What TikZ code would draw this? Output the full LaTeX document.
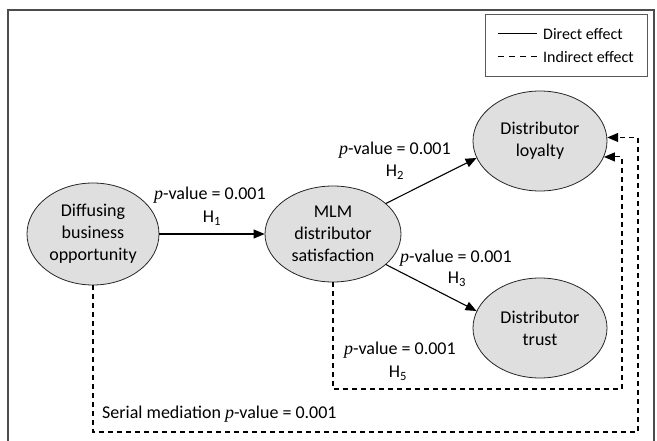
\documentclass[tikz,border=0pt]{standalone}
\usepackage{fontspec}
\setmainfont{Carlito}
\newfontfamily\pfont{Liberation Serif}
\usetikzlibrary{shapes.geometric,arrows.meta}
\newcommand{\pv}{{\pfont\itshape p}}
\begin{document}
\begin{tikzpicture}[x=1pt,y=-1pt,
  construct/.style={ellipse,draw=black!85,line width=0.8pt,fill=gray!25,inner sep=0pt,align=center,font=\fontsize{18}{22}\selectfont},
  lbl/.style={font=\fontsize{18}{22}\selectfont,inner sep=0pt},
  leg/.style={font=\fontsize{16}{19}\selectfont,inner sep=0pt,anchor=west},
  direct/.style={line width=1.1pt,-{Triangle[length=11pt,width=9pt]}},
  indirect/.style={direct,dash pattern=on 5pt off 4pt},
  frameline/.style={draw=black!70,line width=1.3pt},
  legbox/.style={draw=black!65,line width=1pt}]
\useasboundingbox (0,0) rectangle (657,441);
% outer frame
\draw[frameline] (8,441) -- (8,10) -- (654,10) -- (654,441);
% legend
\node[legbox,minimum width=162pt,minimum height=62pt,inner sep=0pt] (legend) at (566,46) {};
\coordinate (ls1) at (498,34);
\coordinate (le1) at (537,34);
\coordinate (ls2) at (498,57);
\coordinate (le2) at (537,57);
\draw[line width=1pt] (ls1) -- (le1);
\draw[line width=1pt,dash pattern=on 6pt off 5pt] (ls2) -- (le2);
\node[leg] (ld) at (543,34) {Direct effect};
\node[leg] (li) at (543,57) {Indirect effect};
% constructs
\node[construct,minimum width=132pt,minimum height=102pt] (diff) at (93,234) {Diffusing\\business\\opportunity};
\node[construct,minimum width=136pt,minimum height=96pt] (mlm) at (333,234) {MLM\\distributor\\satisfaction};
\node[construct,minimum width=134pt,minimum height=100pt] (loy) at (540,141) {Distributor\\loyalty};
\node[construct,minimum width=134pt,minimum height=100pt] (tru) at (540,328) {Distributor\\trust};
% direct effects
\draw[direct] (diff.east) -- (mlm.west);
\draw[direct] (mlm.30) -- (loy.195);
\draw[direct] (mlm.330) -- (tru.165);
% indirect effects
\coordinate (c1) at (622,389);
\coordinate (c2) at (638,432);
\draw[indirect] (mlm.south) |- (c1) |- (loy.-14);
\draw[indirect] (diff.south) |- (c2) |- (loy.3);
% labels
\node[lbl] (p1) at (210,195) {\pv-value = 0.001};
\node[lbl] (h1) at (212,218) {H\textsubscript{1}};
\node[lbl] (p2) at (395,150) {\pv-value = 0.001};
\node[lbl] (h2) at (395,172) {H\textsubscript{2}};
\node[lbl] (p3) at (456,258) {\pv-value = 0.001};
\node[lbl] (h3) at (457,279) {H\textsubscript{3}};
\node[lbl] (p5) at (400,350) {\pv-value = 0.001};
\node[lbl] (h5) at (398,373) {H\textsubscript{5}};
\node[lbl,anchor=west] (ps) at (102,414) {Serial mediation \pv-value = 0.001};
\end{tikzpicture}
\end{document}
